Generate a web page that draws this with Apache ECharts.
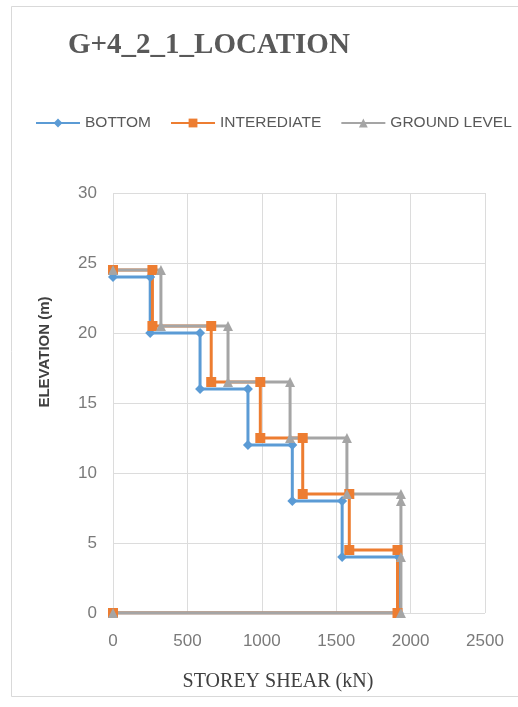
<!DOCTYPE html>
<html>
<head>
<meta charset="utf-8">
<script src="https://cdn.jsdelivr.net/npm/echarts@6/dist/echarts.min.js"></script>
<style>
  html, body { margin: 0; padding: 0; background: #ffffff; }
  #chart { width: 518px; height: 707px; }
</style>
</head>
<body>
<div id="chart"></div>
<script>
// Storey shear profiles: [shear kN, elevation m] along each stepped curve
const seriesNames = ['BOTTOM', 'INTEREDIATE', 'GROUND LEVEL'];
const bottomPts = [
  [0, 24], [250, 24], [250, 20], [585, 20], [585, 16], [907, 16], [907, 12],
  [1205, 12], [1205, 8], [1540, 8], [1540, 4], [1920, 4], [1920, 0], [0, 0]
];
const intermediatePts = [
  [0, 24.5], [265, 24.5], [265, 20.5], [660, 20.5], [660, 16.5], [990, 16.5], [990, 12.5],
  [1275, 12.5], [1275, 8.5], [1588, 8.5], [1588, 4.5], [1912, 4.5], [1912, 0], [0, 0]
];
const groundPts = [
  [0, 24.5], [322, 24.5], [322, 20.5], [773, 20.5], [773, 16.5], [1190, 16.5], [1190, 12.5],
  [1572, 12.5], [1572, 8.5], [1935, 8.5], [1935, 8], [1935, 4], [1935, 0], [0, 0]
];
const xTicks = { min: 0, max: 2500, step: 500 };
const yTicks = { min: 0, max: 30, step: 5 };

const colors = ['#5B9BD5', '#ED7D31', '#A5A5A5'];
const symbols = ['diamond', 'rect', 'triangle'];
const symbolSizes = [10, 10, 10];
const datasets = [bottomPts, intermediatePts, groundPts];

const chart = echarts.init(document.getElementById('chart'), null, { renderer: 'canvas' });

chart.setOption({
  backgroundColor: '#ffffff',
  animation: false,
  title: {
    text: 'G+4_2_1_LOCATION',
    left: 63,
    top: 26,
    textStyle: {
      fontFamily: 'Liberation Serif',
      fontWeight: 'bold',
      fontSize: 29,
      color: '#595959'
    }
  },
  legend: {
    left: 30,
    top: 110,
    width: 488,
    itemWidth: 44,
    itemHeight: 11,
    itemGap: 19,
    textStyle: { fontFamily: 'Liberation Sans', fontSize: 15.5, color: '#595959' },
    data: seriesNames
  },
  grid: { left: 113, right: 33, top: 193, bottom: 94, containLabel: false },
  xAxis: {
    type: 'value',
    min: xTicks.min,
    max: xTicks.max,
    interval: xTicks.step,
    axisLine: { show: false },
    axisTick: { show: false },
    axisLabel: {
      margin: 20,
      fontFamily: 'Liberation Sans',
      fontSize: 17,
      color: '#7a7a7a',
      formatter: (v) => String(v)
    },
    splitLine: { show: true, lineStyle: { color: '#dcdcdc', width: 1 } }
  },
  yAxis: {
    type: 'value',
    min: yTicks.min,
    max: yTicks.max,
    interval: yTicks.step,
    axisLine: { show: false },
    axisTick: { show: false },
    axisLabel: {
      margin: 16,
      fontFamily: 'Liberation Sans',
      fontSize: 17,
      color: '#7a7a7a',
      formatter: (v) => String(v)
    },
    splitLine: { show: true, lineStyle: { color: '#dcdcdc', width: 1 } }
  },
  graphic: [
    {
      type: 'rect',
      silent: true,
      shape: { x: 11.5, y: 6.5, width: 520, height: 690 },
      style: { fill: 'none', stroke: '#d9d9d9', lineWidth: 1 }
    },
    {
      type: 'text',
      silent: true,
      x: 45,
      y: 352,
      rotation: Math.PI / 2,
      style: {
        text: 'ELEVATION (m)',
        fontFamily: 'Liberation Sans',
        fontWeight: 'bold',
        fontSize: 15,
        fill: '#404040',
        align: 'center',
        verticalAlign: 'middle'
      }
    },
    {
      type: 'text',
      silent: true,
      x: 278,
      y: 682,
      style: {
        text: 'STOREY SHEAR (kN)',
        fontFamily: 'Liberation Serif',
        fontSize: 20,
        fill: '#404040',
        align: 'center',
        verticalAlign: 'middle'
      }
    }
  ],
  series: seriesNames.map((name, i) => ({
    name: name,
    type: 'line',
    data: datasets[i],
    color: colors[i],
    symbol: symbols[i],
    symbolSize: symbolSizes[i],
    showAllSymbol: true,
    lineStyle: { width: 3, color: colors[i] },
    itemStyle: { color: colors[i] }
  }))
});
</script>
</body>
</html>
